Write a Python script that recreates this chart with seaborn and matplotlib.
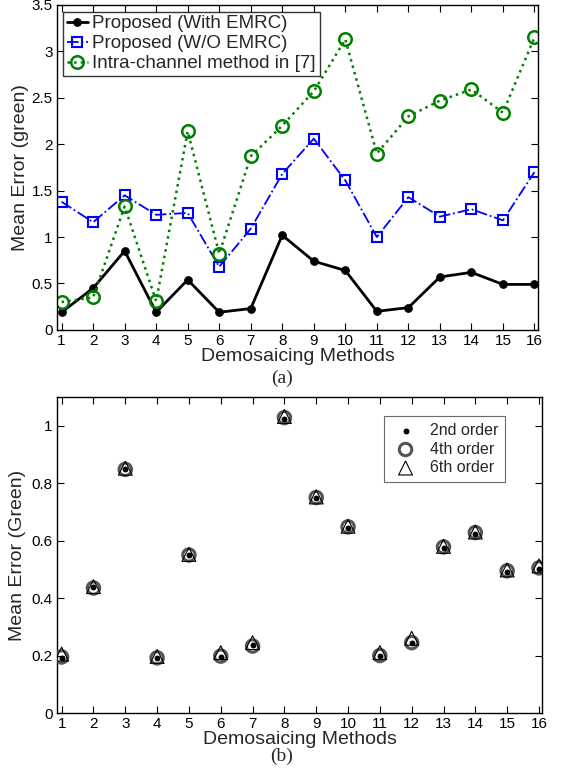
import numpy as np
import pandas as pd
import matplotlib
matplotlib.use("Agg")
import matplotlib.pyplot as plt
import seaborn as sns

methods = list(range(1, 17))
with_emrc = [0.19, 0.45, 0.85, 0.19, 0.54, 0.19, 0.23, 1.02, 0.74, 0.64, 0.20, 0.24, 0.57, 0.62, 0.49, 0.49]
wo_emrc = [1.38, 1.16, 1.45, 1.24, 1.26, 0.68, 1.09, 1.68, 2.06, 1.61, 1.00, 1.43, 1.22, 1.30, 1.18, 1.70]
intra = [0.30, 0.35, 1.33, 0.31, 2.14, 0.82, 1.87, 2.20, 2.57, 3.13, 1.90, 2.30, 2.47, 2.59, 2.34, 3.15]

order2 = [0.19, 0.44, 0.85, 0.19, 0.55, 0.195, 0.235, 1.022, 0.748, 0.643, 0.20, 0.245, 0.575, 0.623, 0.49, 0.50]
order4 = [0.195, 0.435, 0.848, 0.192, 0.55, 0.198, 0.233, 1.028, 0.75, 0.648, 0.20, 0.245, 0.578, 0.628, 0.495, 0.505]
order6 = [0.205, 0.44, 0.852, 0.197, 0.552, 0.21, 0.245, 1.032, 0.752, 0.65, 0.21, 0.26, 0.58, 0.63, 0.498, 0.512]

sns.set_style("white")
plt.rcParams['font.family'] = ['Liberation Sans', 'DejaVu Sans']

fig = plt.figure(figsize=(5.63, 7.69), dpi=100)
ax1 = fig.add_axes([0.101, 0.571, 0.855, 0.4225])
ax2 = fig.add_axes([0.101, 0.0728, 0.862, 0.4110])

df = pd.DataFrame({"m": methods, "a": with_emrc, "b": wo_emrc, "c": intra})
sns.lineplot(data=df, x="m", y="a", ax=ax1, color="black", lw=2, marker="o",
             markersize=5.5, markeredgecolor="black", label="Proposed (With EMRC)")
sns.lineplot(data=df, x="m", y="b", ax=ax1, color="blue", lw=1.3, linestyle="-.", marker="s",
             markersize=7, markerfacecolor="none", markeredgecolor="blue", markeredgewidth=1.5,
             label="Proposed (W/O EMRC)")
sns.lineplot(data=df, x="m", y="c", ax=ax1, color="#008000", lw=1.8, linestyle=":", marker="o",
             markersize=9, markerfacecolor="none", markeredgecolor="#008000", markeredgewidth=1.8,
             label="Intra-channel method in [7]")

ax1.set_xlim(0.85, 16.12)
ax1.set_ylim(0, 3.5)
ax1.set_xticks(methods)
ax1.set_yticks([0, 0.5, 1, 1.5, 2, 2.5, 3, 3.5])
ax1.set_yticklabels(["0", "0.5", "1", "1.5", "2", "2.5", "3", "3.5"])
ax1.set_xlabel("Demosaicing Methods", fontsize=14, labelpad=0)
ax1.set_ylabel("Mean Error (green)", fontsize=14, labelpad=2)
leg1 = ax1.legend(loc="upper left", fontsize=13.5, frameon=True, fancybox=False,
                  borderpad=0.2, labelspacing=0.15, handlelength=1.1, handletextpad=0.25,
                  borderaxespad=0.35)
leg1.get_frame().set_edgecolor("black")
leg1.get_frame().set_linewidth(1.0)

df2 = pd.DataFrame({"m": methods, "o2": order2, "o4": order4, "o6": order6})
sns.scatterplot(data=df2, x="m", y="o4", ax=ax2, marker="o", s=80, facecolor="none",
                edgecolor="#555555", linewidth=2.2, label="4th order", zorder=3)
sns.scatterplot(data=df2, x="m", y="o6", ax=ax2, marker="^", s=100, facecolor="none",
                edgecolor="black", linewidth=0.8, label="6th order", zorder=4)
sns.scatterplot(data=df2, x="m", y="o2", ax=ax2, marker="o", s=18, color="black",
                edgecolor="black", linewidth=0, label="2nd order", zorder=5)
h, l = ax2.get_legend_handles_labels()
idx = [l.index("2nd order"), l.index("4th order"), l.index("6th order")]
leg2 = ax2.legend([h[i] for i in idx], [l[i] for i in idx], loc="upper right",
                  bbox_to_anchor=(0.94, 0.965), fontsize=11.5, frameon=True, fancybox=False,
                  borderpad=0.45, labelspacing=0.22, handletextpad=0.6, handlelength=1.8)
leg2.get_frame().set_edgecolor("#444444")
leg2.get_frame().set_linewidth(0.8)

ax2.set_xlim(0.85, 16.1)
ax2.set_ylim(0, 1.1)
ax2.set_xticks(methods)
ax2.set_yticks([0, 0.2, 0.4, 0.6, 0.8, 1.0])
ax2.set_yticklabels(["0", "0.2", "0.4", "0.6", "0.8", "1"])
ax2.set_xlabel("Demosaicing Methods", fontsize=14, labelpad=0)
ax2.set_ylabel("Mean Error (Green)", fontsize=14, labelpad=4)

for ax in (ax1, ax2):
    for s in ax.spines.values():
        s.set_visible(True)
        s.set_color("black")
        s.set_linewidth(1.0)
    ax.tick_params(direction="in", length=5, width=0.8, top=True, right=True,
                   bottom=True, left=True, labelsize=11, pad=3, colors="black")
    ax.grid(False)

fig.text(0.5, 1 - 378 / 769, "(a)", ha="center", va="center", fontsize=14,
         family=["Liberation Serif", "DejaVu Serif"])
fig.text(0.5, 1 - 756 / 769, "(b)", ha="center", va="center", fontsize=14,
         family=["Liberation Serif", "DejaVu Serif"])

fig.savefig("out.png", dpi=100)
